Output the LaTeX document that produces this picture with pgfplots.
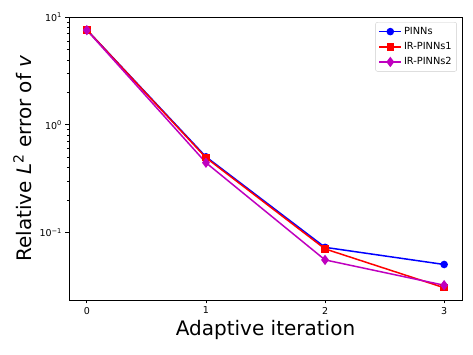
\documentclass[border=0pt]{standalone}
\usepackage{pgfplots}
\pgfplotsset{compat=1.18}
\usepackage{fontspec}
\setmainfont{DejaVu Sans}
\definecolor{mplm}{rgb}{0.75,0,0.75}
\begin{document}
\begin{tikzpicture}
\path[use as bounding box] (-69pt,-55pt) rectangle (404pt,300pt);
\begin{axis}[
    at={(0,0)}, anchor=south west,
    scale only axis,
    width=393pt, height=283pt,
    ymode=log,
    xmin=-0.15, xmax=3.15,
    ymin=0.0237, ymax=10,
    xtick={0,1,2,3},
    ytick={0.1,1,10},
    yticklabels={10\textsuperscript{−1},10\textsuperscript{0},10\textsuperscript{1}},
    tick label style={font=\fontsize{9.5}{11}\selectfont},
    /pgf/number format/assume math mode=true,
    tick align=outside,
    xtick pos=bottom, ytick pos=left,
    major tick length=3.5pt, minor tick length=2pt,
    axis line style={line width=0.8pt},
    every tick/.style={black, line width=0.8pt},
    minor tick style={line width=0.6pt},
    xlabel={Adaptive iteration},
    ylabel={Relative \textit{L}\textsuperscript{2} error of \textit{v}},
    label style={font=\fontsize{20}{24}\selectfont},
    xlabel style={at={(axis description cs:0.5,0)}, anchor=north, yshift=-17pt},
    ylabel style={at={(axis description cs:0,0.5)}, anchor=south, yshift=34pt},
    legend style={at={(0.987,0.982)}, anchor=north east, font=\fontsize{9.8}{12}\selectfont,
        draw=black!20, rounded corners=2pt, inner xsep=3pt, inner ysep=3pt, row sep=2.5pt},
    legend cell align=left,
    legend image code/.code={
        \draw[mark repeat=2,mark phase=2] plot coordinates {(0pt,0pt) (11pt,0pt) (22pt,0pt)};
    },
    every axis plot/.append style={line width=1.5pt},
]
\addplot[blue, mark=*, mark size=3pt] coordinates {(0,7.6) (1,0.505) (2,0.073) (3,0.0506)};
\addlegendentry{PINNs}
\addplot[red, mark=square*, mark size=3pt] coordinates {(0,7.6) (1,0.495) (2,0.0706) (3,0.0308)};
\addlegendentry{IR-PINNs1}
\addplot[mplm, mark=diamond*, mark size=4pt] coordinates {(0,7.55) (1,0.445) (2,0.0558) (3,0.0325)};
\addlegendentry{IR-PINNs2}
\end{axis}
\end{tikzpicture}
\end{document}
